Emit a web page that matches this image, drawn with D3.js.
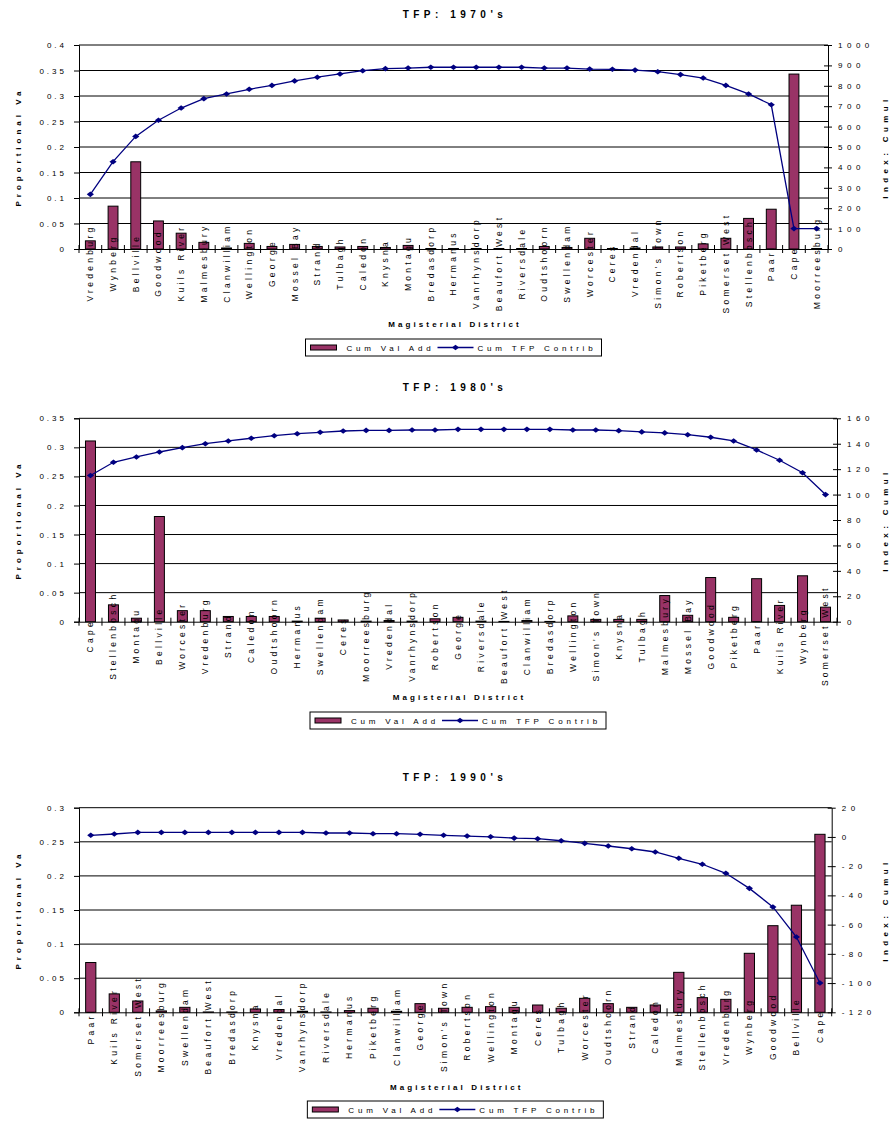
<!DOCTYPE html>
<html>
<head>
<meta charset="utf-8">
<script src="https://cdnjs.cloudflare.com/ajax/libs/d3/7.8.5/d3.min.js"></script>
<style>
  body { margin: 0; background: #fff; }
</style>
</head>
<body>
<div id="chart"></div>
<script>
// ---- data ----
const districts70 = ["Vredenburg", "Wynberg", "Bellville", "Goodwood", "Kuils River", "Malmesbury", "Clanwilliam", "Wellington", "George", "Mossel Bay", "Strand", "Tulbagh", "Caledon", "Knysna", "Montagu", "Bredasdorp", "Hermanus", "Vanrhynsdorp", "Beaufort West", "Riversdale", "Oudtshoorn", "Swellendam", "Worcester", "Ceres", "Vredendal", "Simon's Town", "Robertson", "Piketberg", "Somerset West", "Stellenbosch", "Paarl", "Cape", "Moorreesburg"];
const valAdd70 = [0.016, 0.084, 0.171, 0.055, 0.031, 0.013, 0.002, 0.011, 0.005, 0.009, 0.005, 0.004, 0.005, 0.003, 0.007, 0.001, 0.001, 0.001, 0.001, 0.001, 0.005, 0.003, 0.021, 0.001, 0.002, 0.004, 0.004, 0.010, 0.021, 0.060, 0.078, 0.343, 0.001];
const tfp70 = [268, 428, 552, 631, 691, 737, 760, 783, 802, 824, 842, 858, 874, 884, 887, 891, 891, 891, 891, 891, 887, 887, 882, 881, 877, 869, 855, 838, 802, 760, 707, 100, 100];
const leftTicks70 = [0, 0.05, 0.1, 0.15, 0.2, 0.25, 0.3, 0.35, 0.4];
const rightTicks70 = [0, 100, 200, 300, 400, 500, 600, 700, 800, 900, 1000];

const districts80 = ["Cape", "Stellenbosch", "Montagu", "Bellville", "Worcester", "Vredenburg", "Strand", "Caledon", "Oudtshoorn", "Hermanus", "Swellendam", "Ceres", "Moorreesburg", "Vredendal", "Vanrhynsdorp", "Robertson", "George", "Riversdale", "Beaufort West", "Clanwilliam", "Bredasdorp", "Wellington", "Simon's Town", "Knysna", "Tulbagh", "Malmesbury", "Mossel Bay", "Goodwood", "Piketberg", "Paarl", "Kuils River", "Wynberg", "Somerset West"];
const valAdd80 = [0.311, 0.029, 0.006, 0.181, 0.019, 0.019, 0.009, 0.009, 0.009, 0.001, 0.006, 0.003, 0.001, 0.002, 0.001, 0.005, 0.0075, 0.001, 0.0005, 0.002, 0.0005, 0.010, 0.004, 0.004, 0.004, 0.045, 0.011, 0.076, 0.0075, 0.074, 0.028, 0.079, 0.025];
const tfp80 = [115, 125.4, 129.6, 133.5, 136.9, 140, 142.2, 144.3, 146.3, 147.9, 149, 150, 150.5, 150.5, 150.8, 150.8, 151.3, 151.3, 151.3, 151.3, 151.3, 150.8, 150.8, 150.3, 149.3, 148.5, 147.1, 145.1, 142.2, 135.1, 127, 117.2, 100];
const leftTicks80 = [0, 0.05, 0.1, 0.15, 0.2, 0.25, 0.3, 0.35];
const rightTicks80 = [0, 20, 40, 60, 80, 100, 120, 140, 160];

const districts90 = ["Paarl", "Kuils River", "Somerset West", "Moorreesburg", "Swellendam", "Beaufort West", "Bredasdorp", "Knysna", "Vredendal", "Vanrhynsdorp", "Riversdale", "Hermanus", "Piketberg", "Clanwilliam", "George", "Simon's Town", "Robertson", "Wellington", "Montagu", "Ceres", "Tulbagh", "Worcester", "Oudtshoorn", "Strand", "Caledon", "Malmesbury", "Stellenbosch", "Vredenburg", "Wynberg", "Goodwood", "Bellville", "Cape"];
const valAdd90 = [0.073, 0.027, 0.0166, 0.002, 0.0073, 0.0005, 0.0005, 0.0049, 0.004, 0.0015, 0.0005, 0.0025, 0.0059, 0.0015, 0.0127, 0.0059, 0.0073, 0.0083, 0.0073, 0.0107, 0.006, 0.0205, 0.0127, 0.0073, 0.0107, 0.0586, 0.0215, 0.019, 0.0865, 0.127, 0.157, 0.261];
const tfp90 = [1.1, 2.0, 3.1, 3.1, 3.1, 3.1, 3.1, 3.1, 3.1, 3.1, 2.7, 2.7, 2.2, 2.2, 1.8, 1.1, 0.6, 0.1, -0.8, -1.2, -2.6, -4.4, -6.2, -8.1, -10.3, -14.6, -18.7, -24.9, -35.2, -47.9, -68.5, -100];
const leftTicks90 = [0, 0.05, 0.1, 0.15, 0.2, 0.25, 0.3];
const rightTicks90 = [-120, -100, -80, -60, -40, -20, 0, 20];

(function() {
  const FONT = "'Liberation Sans', Arial, sans-serif";
  const BAR_COLOR = "#993366";
  const LINE_COLOR = "#000080";
  const DIAMOND = "M0,-2.8L3.6,0L0,2.8L-3.6,0Z";

  const svg = d3
    .select("#chart")
    .append("svg")
    .attr("width", 895)
    .attr("height", 1122)
    .style("background", "#fff");

  const charts = [
    { title: "TFP: 1970's", districts: districts70, valAdd: valAdd70, tfp: tfp70,
      leftTicks: leftTicks70, rightTicks: rightTicks70,
      top: 45, bottom: 249, left: 79, right: 828, titleY: 18, xTitleY: 327, legendY: 339 },
    { title: "TFP: 1980's", districts: districts80, valAdd: valAdd80, tfp: tfp80,
      leftTicks: leftTicks80, rightTicks: rightTicks80,
      top: 418.3, bottom: 621.7, left: 79, right: 837, titleY: 391, xTitleY: 700, legendY: 712 },
    { title: "TFP: 1990's", districts: districts90, valAdd: valAdd90, tfp: tfp90,
      leftTicks: leftTicks90, rightTicks: rightTicks90,
      top: 807.7, bottom: 1012.3, left: 79, right: 831.7, titleY: 781, xTitleY: 1090, legendY: 1101 }
  ];

  function spacedText(sel, size, spacing, bold) {
    return sel
      .attr("font-family", FONT)
      .attr("font-size", size)
      .attr("font-weight", bold ? "bold" : "normal")
      .attr("fill", "#000")
      .style("letter-spacing", spacing + "px");
  }

  function drawChart(c) {
    const g = svg.append("g");
    const x = d3.scaleBand().domain(c.districts).range([c.left, c.right]);
    const yL = d3.scaleLinear().domain(d3.extent(c.leftTicks)).range([c.bottom, c.top]);
    const yR = d3.scaleLinear().domain(d3.extent(c.rightTicks)).range([c.bottom, c.top]);
    const bw = x.bandwidth();
    const barW = bw / 2.3;
    const mid = (c.left + c.right) / 2;
    const midY = (c.top + c.bottom) / 2;

    // title
    g.append("text")
      .attr("x", 453 + 2)
      .attr("y", c.titleY)
      .attr("text-anchor", "middle")
      .text(c.title)
      .call(spacedText, 10, 4.5, true);

    // gridlines
    g.selectAll("line.grid")
      .data(c.leftTicks.slice(1))
      .join("line")
      .attr("class", "grid")
      .attr("x1", c.left)
      .attr("x2", c.right)
      .attr("y1", d => yL(d))
      .attr("y2", d => yL(d))
      .attr("stroke", "#000")
      .attr("stroke-width", 1);

    // bars
    g.selectAll("rect.bar")
      .data(c.districts)
      .join("rect")
      .attr("class", "bar")
      .attr("x", d => x(d) + (bw - barW) / 2)
      .attr("width", barW)
      .attr("y", (d, i) => yL(c.valAdd[i]))
      .attr("height", (d, i) => c.bottom - yL(c.valAdd[i]))
      .attr("fill", BAR_COLOR)
      .attr("stroke", "#000")
      .attr("stroke-width", 1);

    // left axis
    g.append("g")
      .attr("transform", `translate(${c.left},0)`)
      .call(d3.axisLeft(yL).tickValues(c.leftTicks).tickSize(5).tickPadding(7).tickFormat(String))
      .call(a => {
        a.select(".domain").attr("stroke", "#000");
        a.selectAll(".tick line").attr("stroke", "#000");
        a.selectAll("text").call(spacedText, 8, 3, false);
      });

    // right axis, ticks cross the line
    g.append("g")
      .attr("transform", `translate(${c.right},0)`)
      .call(d3.axisRight(yR).tickValues(c.rightTicks).tickSize(4).tickPadding(6).tickSizeOuter(0).tickFormat(String))
      .call(a => {
        a.select(".domain").attr("stroke", "#000");
        a.selectAll(".tick line").attr("x1", -4).attr("x2", 4).attr("stroke", "#000");
        a.selectAll("text").call(spacedText, 8, 4.5, false);
      });

    // category axis
    g.append("g")
      .attr("transform", `translate(0,${c.bottom})`)
      .call(d3.axisBottom(x).tickSize(0).tickSizeOuter(0))
      .call(a => {
        a.select(".domain").attr("stroke", "#000");
        a.selectAll("text")
          .attr("transform", "rotate(-90)")
          .attr("x", -14)
          .attr("y", 0)
          .attr("dy", "0.35em")
          .attr("text-anchor", "middle")
          .call(spacedText, 8.5, 3.3, false);
      });

    const edges = c.districts.map(d => x(d)).concat([c.right]);
    g.selectAll("line.xtick")
      .data(edges)
      .join("line")
      .attr("class", "xtick")
      .attr("x1", d => d)
      .attr("x2", d => d)
      .attr("y1", c.bottom - 4)
      .attr("y2", c.bottom + 4)
      .attr("stroke", "#000");

    // cumulative TFP line
    const pts = c.districts.map((d, i) => ({ d, v: c.tfp[i] }));
    const line = d3.line().x(p => x(p.d) + bw / 2).y(p => yR(p.v));
    g.append("path")
      .datum(pts)
      .attr("d", line)
      .attr("fill", "none")
      .attr("stroke", LINE_COLOR)
      .attr("stroke-width", 1.3);
    g.selectAll("path.mark")
      .data(pts)
      .join("path")
      .attr("class", "mark")
      .attr("d", DIAMOND)
      .attr("transform", p => `translate(${x(p.d) + bw / 2},${yR(p.v)})`)
      .attr("fill", LINE_COLOR);

    // axis titles
    g.append("text")
      .attr("transform", `translate(21,${midY}) rotate(-90)`)
      .attr("text-anchor", "middle")
      .text("Proportional Va")
      .call(spacedText, 8, 4, true);
    g.append("text")
      .attr("transform", `translate(888,${midY}) rotate(-90)`)
      .attr("text-anchor", "middle")
      .text("Index: Cumul")
      .call(spacedText, 8, 4.4, true);
    g.append("text")
      .attr("x", mid + 1.5)
      .attr("y", c.xTitleY)
      .attr("text-anchor", "middle")
      .text("Magisterial District")
      .call(spacedText, 8, 3.1, true);

    // legend
    const lg = g.append("g").attr("transform", `translate(${mid},${c.legendY})`);
    lg.append("rect")
      .attr("x", -148).attr("y", 0).attr("width", 296).attr("height", 17)
      .attr("fill", "#fff").attr("stroke", "#000");
    lg.append("rect")
      .attr("x", -143).attr("y", 6).attr("width", 26).attr("height", 5)
      .attr("fill", BAR_COLOR).attr("stroke", "#000");
    lg.append("text")
      .attr("x", -107).attr("y", 12)
      .text("Cum Val Add")
      .call(spacedText, 8, 3.8, false);
    lg.append("line")
      .attr("x1", -16).attr("x2", 20).attr("y1", 8.5).attr("y2", 8.5)
      .attr("stroke", LINE_COLOR).attr("stroke-width", 1.3);
    lg.append("path")
      .attr("d", DIAMOND)
      .attr("transform", "translate(2,8.5)")
      .attr("fill", LINE_COLOR);
    lg.append("text")
      .attr("x", 24).attr("y", 12)
      .text("Cum TFP Contrib")
      .call(spacedText, 8, 3.8, false);
  }

  charts.forEach(drawChart);
})();
</script>
</body>
</html>
